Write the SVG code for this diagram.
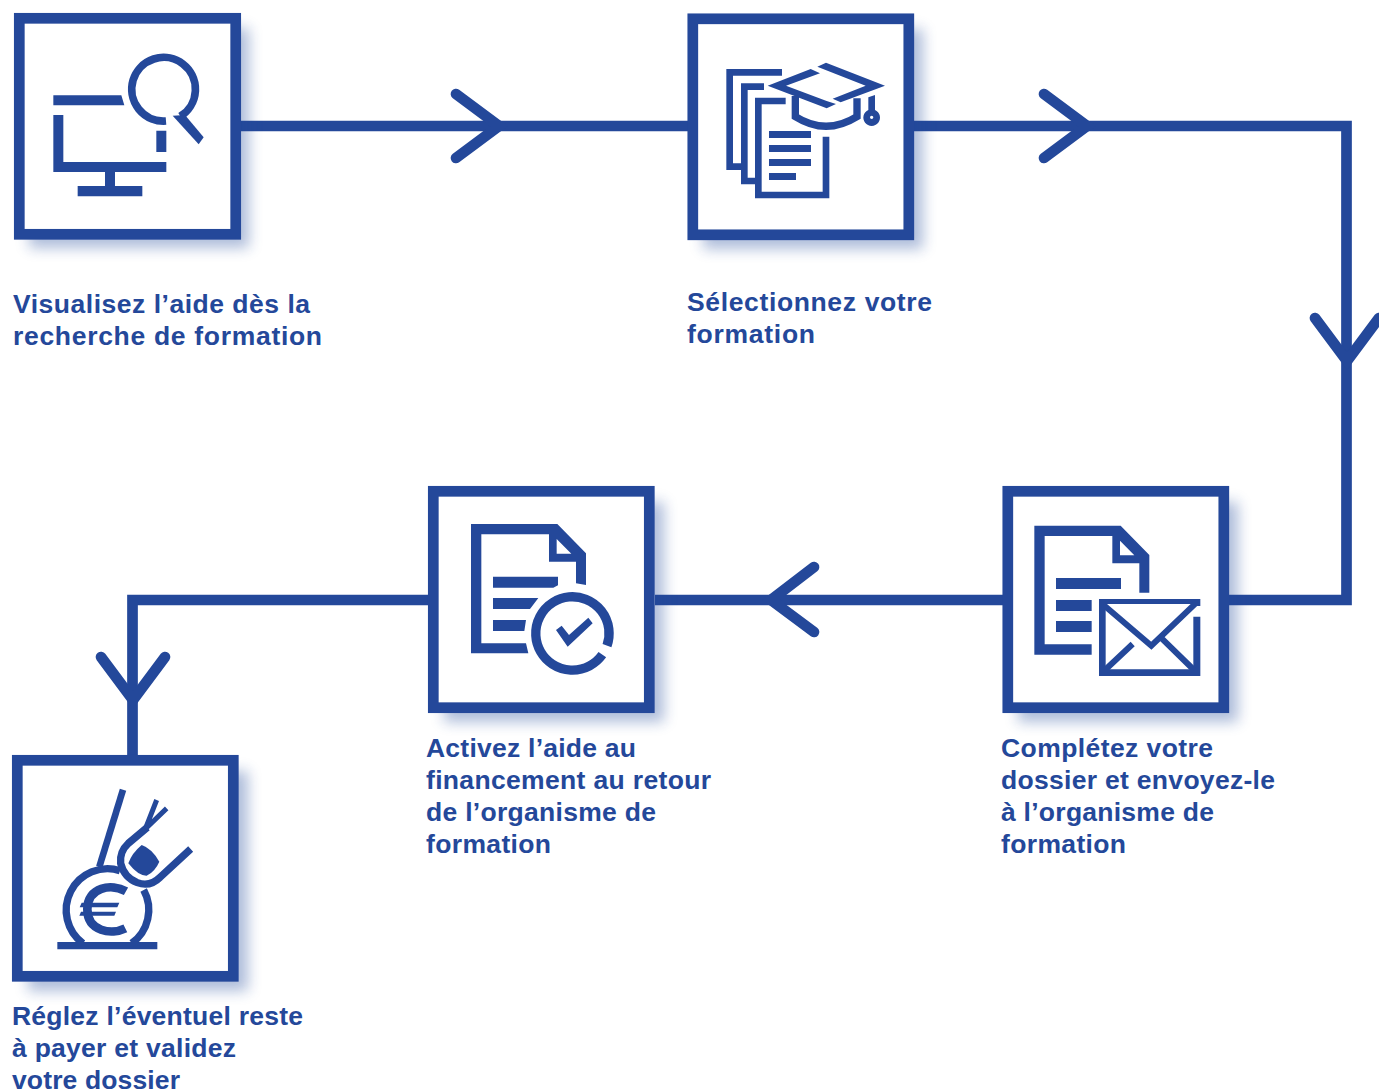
<svg xmlns="http://www.w3.org/2000/svg" width="1379" height="1090" viewBox="0 0 1379 1090">
<style>
.box{fill:#fff;stroke:#24489a;stroke-width:10.7}
.sh{fill:#24489a;opacity:.36;filter:url(#blur)}
.f{fill:#24489a}
.s{fill:none;stroke:#24489a;stroke-width:20}
.line{fill:none;stroke:#24489a;stroke-width:10.7}
.chev{fill:none;stroke:#24489a;stroke-width:10.7;stroke-linecap:round;stroke-linejoin:miter}
text{font-family:"Liberation Sans",Arial,sans-serif;font-weight:700;font-size:26.5px;fill:#24489a}
</style>
<defs><filter id="blur" x="-20%" y="-20%" width="140%" height="140%"><feGaussianBlur stdDeviation="7"/></filter></defs>
<rect width="1379" height="1090" fill="#fff"/>
<g id="connectors">
<path class="line" d="M241 126H688"/>
<path class="chev" d="M456 94L499 126L456 158"/>
<path class="line" d="M914 126H1346.500V600H1229"/>
<path class="chev" d="M1044 94L1087 126L1044 158"/>
<path class="chev" d="M1315 318L1347 361L1379 318"/>
<path class="line" d="M1003 600H655"/>
<path class="chev" d="M814 567L771 600L814 632"/>
<path class="line" d="M428 600H132.500V755"/>
<path class="chev" d="M101 657L133 700L165 657"/>
</g>
<g id="node1">
<rect class="sh" x="29" y="28" width="220" height="220"/>
<rect class="box" x="19.300" y="18.300" width="216.400" height="216"/>
<g transform="scale(.33333)">
<path class="f" d="M160 286H364L373 316H160ZM160 345H190V486H499V516H345V558H427V589H233V558H315V516H160ZM469 392H499V456H469Z"/>
<path class="s" style="stroke-width:23" d="M498 363A95.500 95.500 0 1 1 541 349"/>
<path class="f" d="M518 347L555 345L611 412L596 433Z"/>
</g>
<text x="13" y="313" textLength="297">Visualisez l’aide dès la</text>
<text x="13" y="345" textLength="309">recherche de formation</text>
</g>
<g id="node2">
<rect class="sh" x="703" y="29" width="220" height="220"/>
<rect class="box" x="692.800" y="18.800" width="216" height="216"/>
<g transform="translate(680 0) scale(.33333)">
<path class="f" d="M139 207H306V227H159V490H183V510H139ZM183 250H252V270H203V533H225V553H183ZM225 293H317V313H245V575H428V410H448V595H225ZM267 393H393V414H267ZM267 435H393V456H267ZM267 477H393V498H267ZM267 519H348V540H267Z"/>
<path class="f" d="M263 257L392 207L420 220L318 257L440 303L468 312L440 325ZM412 200L438 188L615 257L482 307L458 296L557 257Z"/>
<path class="s" style="stroke-width:22" d="M346 288V350Q438 408 531 350V295"/>
<path class="f" fill-rule="evenodd" d="M565 292L585 285V330A25 25 0 1 1 565 330ZM575 347A5 5 0 1 0 575 357A5 5 0 1 0 575 347Z"/>
</g>
<text x="687" y="311" textLength="245">Sélectionnez votre</text>
<text x="687" y="343" textLength="128">formation</text>
</g>
<g id="node3">
<rect class="sh" x="1018" y="502" width="220" height="220"/>
<rect class="box" x="1007.800" y="491.300" width="216" height="216.400"/>
<g transform="translate(990 480) scale(.33333)">
<path class="f" fill-rule="evenodd" d="M133 137H392L478 225V338H448V250H367V168H164V493H305V524H133ZM390 182V226H433Z"/>
<path class="f" d="M198 294H393V327H198ZM198 360H305V393H198ZM198 423H305V456H198Z"/>
<path class="f" d="M327 357H631V378H610V372H347V568H610V410H631V588H327Z"/>
<path class="s" style="stroke-width:18" d="M340 374L484 497L620 367M428 492L345 570M515 475L612 570"/>
</g>
<text x="1001" y="757" textLength="212">Complétez votre</text>
<text x="1001" y="789" textLength="274">dossier et envoyez-le</text>
<text x="1001" y="821" textLength="213">à l’organisme de</text>
<text x="1001" y="853" textLength="125">formation</text>
</g>
<g id="node4">
<rect class="sh" x="444" y="502" width="220" height="220"/>
<rect class="box" x="433.300" y="491.300" width="216" height="216.400"/>
<g transform="translate(420 480) scale(.33333)">
<path class="f" fill-rule="evenodd" d="M153 132H412L498 220V315L468 310V245H387V163H184V490H318L325 520H153ZM410 177V221H454Z"/>
<path class="f" d="M219 290H414V316L400 323H219ZM219 354H355L330 387H219ZM219 420H318L313 453H219Z"/>
<path class="s" style="stroke-width:28" d="M547 524A110 110 0 1 1 561 497"/>
<path class="f" d="M408 450L425 437L447 465L505 413L518 430L443 500Z"/>
</g>
<text x="426" y="757" textLength="210">Activez l’aide au</text>
<text x="426" y="789" textLength="285">financement au retour</text>
<text x="426" y="821" textLength="230">de l’organisme de</text>
<text x="426" y="853" textLength="125">formation</text>
</g>
<g id="node5">
<rect class="sh" x="28" y="771" width="220" height="220"/>
<rect class="box" x="17.300" y="760.300" width="216" height="216"/>
<g transform="translate(0 750) scale(.33333)">
<path class="f" d="M172 576H472V598H172Z"/>
<path class="s" style="stroke-width:22" d="M249 580A124 124 0 0 1 360 362M431 420A124 124 0 0 1 395 580"/>
<path class="s" d="M369 119L298 350"/>
<path class="s" style="stroke-width:22" d="M572 297L480 382Q450 412 412 398Q372 382 362 340Q358 305 385 280L442 232"/>
<path class="s" style="stroke-width:15" d="M436 237L470 150M436 237L500 175"/>
<path class="f" d="M425 285Q455 295 478 335Q465 365 440 377Q415 378 385 340Q395 310 425 285Z"/>
<path class="s" style="stroke-width:26" d="M378 424C335 400 262 410 262 478C262 545 335 555 376 535"/>
<path class="f" d="M245 458H358L352 472H239ZM243 485H348L343 497H238Z"/>
</g>
<text x="12" y="1025" textLength="291">Réglez l’éventuel reste</text>
<text x="12" y="1057" textLength="224">à payer et validez</text>
<text x="12" y="1089" textLength="168">votre dossier</text>
</g>
</svg>
